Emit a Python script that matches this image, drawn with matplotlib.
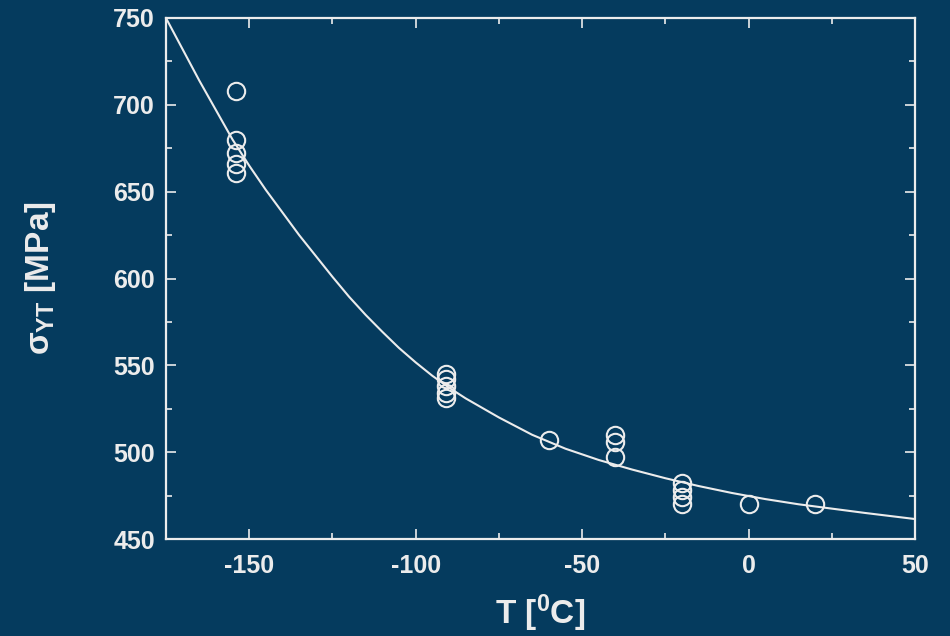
import matplotlib
matplotlib.use("Agg")
import matplotlib.pyplot as plt
from matplotlib.ticker import MultipleLocator

BG = "#053b5e"
FG = "#ececec"

# measured yield stress points
temp_pts = [-154, -154, -154, -154, -154,
            -91, -91, -91, -91, -91,
            -60,
            -40, -40, -40,
            -20, -20, -20, -20,
            0, 20]
stress_pts = [708, 680, 672, 666, 661,
              545, 542, 538, 534, 531,
              507,
              510, 506, 497,
              482, 478, 474, 470,
              470, 470]

# fitted curve
curve_t = [-175, -170, -165, -160, -155, -150, -145, -140, -135, -130, -125,
           -120, -115, -110, -105, -100, -95, -90, -85, -75, -65, -55, -45,
           -35, -25, -15, -5, 5, 15, 25, 35, 50]
curve_s = [750, 732, 714, 697, 680, 665, 651, 638, 625, 613, 601,
           589.5, 579, 569.3, 560, 551.7, 544, 537.2, 531, 520, 510, 502,
           495.5, 490, 485, 480.5, 476.5, 473, 470, 467.5, 465, 461.5]

plt.rcParams["font.family"] = ["Liberation Sans", "DejaVu Sans"]
plt.rcParams["font.weight"] = "bold"
plt.rcParams["axes.unicode_minus"] = False
plt.rcParams["mathtext.fontset"] = "custom"
plt.rcParams["mathtext.rm"] = "Liberation Sans:bold"
plt.rcParams["mathtext.bf"] = "Liberation Sans:bold"
plt.rcParams["mathtext.it"] = "Liberation Sans"

fig = plt.figure(figsize=(9.5, 6.36), dpi=100, facecolor=BG)
ax = fig.add_axes([0.1747, 0.1525, 0.7885, 0.8192])
ax.set_facecolor(BG)

ax.plot(curve_t, curve_s, color=FG, lw=1.5, zorder=2)
ax.plot(temp_pts, stress_pts, "o", ms=12.5, mfc="none", mec=FG, mew=1.5,
        zorder=3)

ax.set_xlim(-175, 50)
ax.set_ylim(450, 750)
ax.xaxis.set_major_locator(MultipleLocator(50))
ax.xaxis.set_minor_locator(MultipleLocator(25))
ax.yaxis.set_major_locator(MultipleLocator(50))
ax.yaxis.set_minor_locator(MultipleLocator(25))

for s in ax.spines.values():
    s.set_color(FG)
    s.set_linewidth(1.6)

ax.tick_params(which="both", direction="in", top=True, right=True,
               color=FG, width=1.2)
ax.tick_params(which="major", length=7.5)
ax.tick_params(which="minor", length=4.5)
ax.tick_params(axis="x", which="major", labelsize=18, labelcolor=FG, pad=11)
ax.tick_params(axis="y", which="major", labelsize=18, labelcolor=FG, pad=8)
for lab in ax.get_xticklabels() + ax.get_yticklabels():
    lab.set_fontweight("bold")

ax.set_xlabel(r"T [$^{0}$C]", fontsize=24, color=FG, fontweight="bold",
              labelpad=10)
ax.set_ylabel(r"$\sigma_{YT}$ [MPa]", fontsize=24, color=FG,
              fontweight="bold", labelpad=40)

fig.savefig("out.png", dpi=100, facecolor=BG)
